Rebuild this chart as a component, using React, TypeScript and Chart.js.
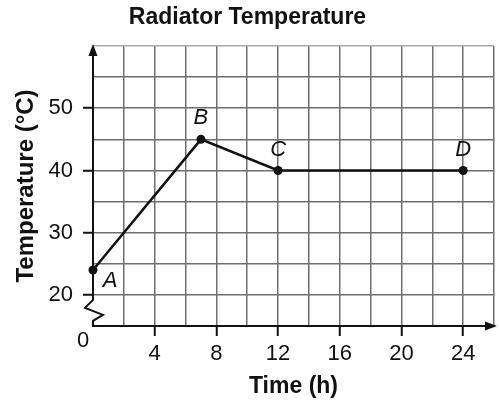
import React, { useEffect, useRef } from "react";
import { Chart, registerables } from "chart.js";

Chart.register(...registerables);

// ---- data ----
const times = [0, 7, 12, 24];
const temps = [24, 45, 40, 40];
const pointNames = ["A", "B", "C", "D"];
const xLabeledTicks = [4, 8, 12, 16, 20, 24];
const yLabeledTicks = [20, 30, 40, 50];
const chartTitle = "Radiator Temperature";
const xTitle = "Time (h)";
const yTitle = "Temperature (°C)";
const originLabel = "0";

const FONT = "'Liberation Sans', Arial, Helvetica, sans-serif";

const decorPlugin = {
  id: "decor",
  beforeDatasetsDraw(chart: any) {
    const { ctx, chartArea, scales } = chart;
    const xs = scales.x;
    const ys = scales.y;
    const x0 = xs.getPixelForValue(0);
    const y20 = ys.getPixelForValue(20);
    const yBot = ys.getPixelForValue(15);
    const top = chartArea.top;
    const right = chartArea.right;
    ctx.save();
    ctx.strokeStyle = "#111";
    ctx.fillStyle = "#111";
    ctx.lineWidth = 2;
    ctx.lineJoin = "miter";
    // y axis with break zigzag
    ctx.beginPath();
    ctx.moveTo(x0, top + 6);
    ctx.lineTo(x0, y20 + 5);
    ctx.lineTo(x0 - 8, y20 + 13);
    ctx.lineTo(x0 + 10, y20 + 20);
    ctx.lineTo(x0, y20 + 26);
    ctx.lineTo(x0, yBot);
    ctx.stroke();
    // y arrow
    ctx.beginPath();
    ctx.moveTo(x0, top - 2);
    ctx.lineTo(x0 - 4.5, top + 10);
    ctx.lineTo(x0 + 4.5, top + 10);
    ctx.closePath();
    ctx.fill();
    // x arrow
    ctx.beginPath();
    ctx.moveTo(right + 3, yBot);
    ctx.lineTo(right - 9, yBot - 4.5);
    ctx.lineTo(right - 9, yBot + 4.5);
    ctx.closePath();
    ctx.fill();
    // origin label
    ctx.font = `22px ${FONT}`;
    ctx.textAlign = "center";
    ctx.textBaseline = "middle";
    ctx.fillText(originLabel, x0 - 10, yBot + 15);
    ctx.restore();
  },
  afterDatasetsDraw(chart: any) {
    const { ctx } = chart;
    const meta = chart.getDatasetMeta(0);
    ctx.save();
    ctx.fillStyle = "#111";
    ctx.font = `italic 22px ${FONT}`;
    ctx.textAlign = "center";
    ctx.textBaseline = "middle";
    meta.data.forEach((pt: any, i: number) => {
      const name = pointNames[i];
      if (i === 0) {
        ctx.fillText(name, pt.x + 17, pt.y + 11);
      } else {
        ctx.fillText(name, pt.x, pt.y - 21);
      }
    });
    ctx.restore();
  },
};

export default function App() {
  const ref = useRef<HTMLCanvasElement | null>(null);

  useEffect(() => {
    if (!ref.current) return;
    const chart = new Chart(ref.current, {
      type: "line",
      data: {
        datasets: [
          {
            data: times.map((t, i) => ({ x: t, y: temps[i] })),
            borderColor: "#111",
            borderWidth: 2.5,
            backgroundColor: "#111",
            pointRadius: 4.5,
            pointBorderWidth: 0,
            pointBackgroundColor: "#111",
            tension: 0,
            clip: false as any,
          },
        ],
      },
      options: {
        animation: false,
        responsive: false,
        maintainAspectRatio: false,
        layout: { padding: { left: 0, right: 4, top: 0, bottom: 0 } },
        plugins: {
          legend: { display: false },
          tooltip: { enabled: false },
          title: {
            display: true,
            text: chartTitle,
            color: "#111",
            font: { family: FONT, size: 23, weight: "bold" },
            padding: { top: 4, bottom: 14.4 },
          },
        },
        scales: {
          x: {
            type: "linear",
            min: 0,
            max: 26,
            afterFit: (s: any) => {
              s.height = 77;
            },
            ticks: {
              stepSize: 2,
              autoSkip: false,
              maxRotation: 0,
              includeBounds: false,
              padding: 5,
              color: "#111",
              font: { family: FONT, size: 22 },
              callback: (v: any) => (xLabeledTicks.includes(Number(v)) ? String(v) : ""),
            },
            grid: {
              color: (c: any) => (c.tick && c.tick.value === 0 ? "rgba(0,0,0,0)" : "#6e6e6e"),
              lineWidth: 1.5,
              tickLength: 10,
              tickWidth: 2,
              tickColor: (c: any) =>
                c.tick && xLabeledTicks.includes(c.tick.value) ? "#111" : "rgba(0,0,0,0)",
            },
            border: { display: true, color: "#111", width: 2 },
            title: {
              display: true,
              text: xTitle,
              color: "#111",
              font: { family: FONT, size: 23, weight: "bold" },
              padding: { top: 0, bottom: 3 },
            },
          },
          y: {
            type: "linear",
            min: 15,
            max: 60,
            afterFit: (s: any) => {
              s.width = 93;
            },
            ticks: {
              stepSize: 5,
              autoSkip: false,
              padding: 10,
              color: "#111",
              font: { family: FONT, size: 22 },
              callback: (v: any) => (yLabeledTicks.includes(Number(v)) ? String(v) : ""),
            },
            grid: {
              color: (c: any) =>
                c.tick && c.tick.value === 15
                  ? "rgba(0,0,0,0)"
                  : c.tick && c.tick.value === 60
                  ? "#a8a8a8"
                  : "#6e6e6e",
              lineWidth: 1.5,
              tickLength: 10,
              tickWidth: 2,
              tickColor: (c: any) =>
                c.tick && yLabeledTicks.includes(c.tick.value) ? "#111" : "rgba(0,0,0,0)",
            },
            border: { display: false },
            title: {
              display: true,
              text: yTitle,
              color: "#111",
              font: { family: FONT, size: 24, weight: "bold" },
              padding: { top: 11.6, bottom: 0 },
            },
          },
        },
      },
      plugins: [decorPlugin],
    });
    return () => chart.destroy();
  }, []);

  return (
    <div style={{ position: "absolute", left: 0, top: 0, width: 499, height: 403, background: "#fff" }}>
      <canvas ref={ref} width={499} height={403} style={{ display: "block", width: 499, height: 403 }} />
    </div>
  );
}
